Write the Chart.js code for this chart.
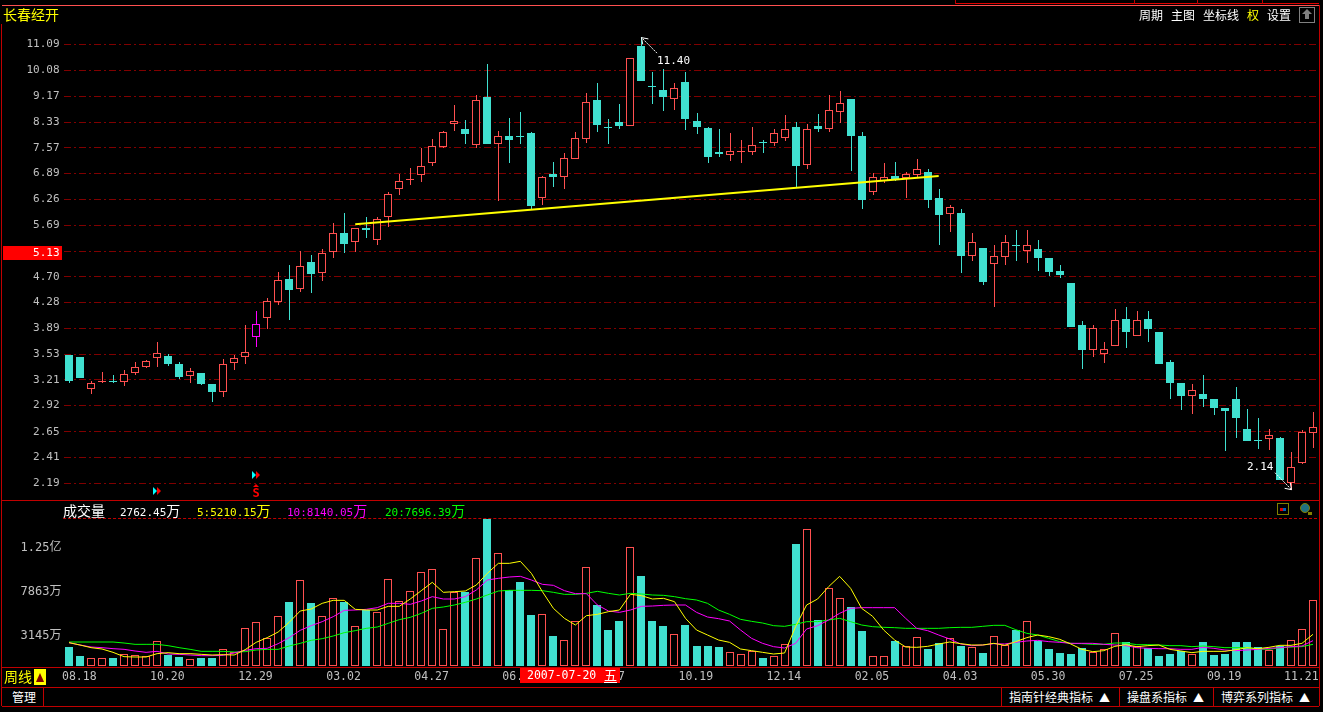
<!DOCTYPE html>
<html lang="zh">
  <head>
    <meta charset="utf-8">
    <title>长春经开</title>
    <script src="https://cdn.jsdelivr.net/npm/chart.js@4.4.1/dist/chart.umd.min.js"></script>
    <style>
      html, body { margin: 0; padding: 0; background: #000; overflow: hidden; }
      body { width: 1323px; height: 712px; position: relative; font-family: "Noto Sans CJK SC", sans-serif; }
      canvas { position: absolute; left: 0; }
      #priceChart { top: 0; }
      #volumeChart { top: 500px; }
      .t { position: absolute; white-space: nowrap; font-size: 12px; line-height: 16px; height: 16px; color: #fff; }
      .m { font-family: "DejaVu Sans Mono", monospace; font-size: 11px; }
      .c { font-family: "Noto Sans CJK SC", sans-serif; font-size: 14px; }
      .r { position: absolute; background: #c00000; }
      .tri { font-size: 11px; }
    </style>
  </head>
  <body>
    <canvas id="priceChart" width="1323" height="500" style="width:1323px;height:500px"></canvas>
    <canvas id="volumeChart" width="1323" height="187" style="width:1323px;height:187px"></canvas>

    <!-- frame -->
    <div class="r" style="left:2px;top:5px;width:1317px;height:1px;background:#ff5050"></div>
    <div class="r" style="left:955px;top:3px;width:364px;height:1px;background:#e00000"></div>
    <div class="r" style="left:1134px;top:0;width:1px;height:4px"></div>
    <div class="r" style="left:1197px;top:0;width:1px;height:4px"></div>
    <div class="r" style="left:1262px;top:0;width:1px;height:4px"></div>
    <div class="r" style="left:955px;top:0;width:1px;height:4px"></div>
    <div class="r" style="left:1px;top:24px;width:1px;height:682px"></div>
    <div class="r" style="left:1319px;top:5px;width:1px;height:701px"></div>
    <div class="r" style="left:2px;top:500px;width:1317px;height:1px"></div>
    <div style="position:absolute;left:63px;top:518px;width:1254px;border-top:1px dashed #c00000"></div>
    <div class="r" style="left:2px;top:667px;width:1317px;height:1px"></div>
    <div class="r" style="left:2px;top:687px;width:1317px;height:1px"></div>
    <div class="r" style="left:2px;top:706px;width:1317px;height:1px"></div>
    <div class="r" style="left:43px;top:687px;width:1px;height:19px"></div>
    <div class="r" style="left:1001px;top:687px;width:1px;height:19px"></div>
    <div class="r" style="left:1119px;top:687px;width:1px;height:19px"></div>
    <div class="r" style="left:1213px;top:687px;width:1px;height:19px"></div>

    <!-- top bar -->
    <div class="t" style="left:3px;top:6px;color:#ffff00;font-size:14px">长春经开</div>
    <div class="t" style="left:1139px;top:7px">周期</div>
    <div class="t" style="left:1171px;top:7px">主图</div>
    <div class="t" style="left:1203px;top:7px">坐标线</div>
    <div class="t" style="left:1247px;top:7px;color:#ffff00">权</div>
    <div class="t" style="left:1267px;top:7px">设置</div>
    <div style="position:absolute;left:1299px;top:7px;width:14px;height:14px;border:1px solid #808080"></div>
    <div style="position:absolute;left:1302px;top:9px;width:0;height:0;border:5px solid transparent;border-top:0;border-bottom:5px solid #808080"></div>
    <div style="position:absolute;left:1305px;top:14px;width:4px;height:5px;background:#808080"></div>

    <!-- volume header -->
    <div class="t" style="left:63px;top:502px;font-size:14px">成交量</div>
    <div class="t m" style="left:120px;top:502px">2762.45<span class="c">万</span></div>
    <div class="t m" style="left:197px;top:502px;color:#ffff00">5:5210.15<span class="c">万</span></div>
    <div class="t m" style="left:287px;top:502px;color:#ff00ff">10:8140.05<span class="c">万</span></div>
    <div class="t m" style="left:385px;top:502px;color:#00ff00">20:7696.39<span class="c">万</span></div>
    <div style="position:absolute;left:1277px;top:503px;width:10px;height:10px;border:1px solid #808000"></div>
    <div style="position:absolute;left:1280px;top:508px;width:3px;height:3px;background:#e00000"></div>
    <div style="position:absolute;left:1283px;top:508px;width:3px;height:3px;background:#0060c0"></div>
    <div style="position:absolute;left:1300px;top:503px;width:8px;height:8px;border:1px solid #808000;border-radius:5px;background:#207080"></div>
    <div style="position:absolute;left:1308px;top:512px;width:4px;height:3px;background:#808000"></div>

    <!-- bottom bars -->
    <div class="t" style="left:4px;top:668px;color:#ffff00;font-size:14px">周线</div>
    <div style="position:absolute;left:34px;top:669px;width:12px;height:16px;background:#ffff00"></div>
    <div style="position:absolute;left:36px;top:673px;width:0;height:0;border:4px solid transparent;border-top:0;border-bottom:9px solid #800000"></div>
    <div class="t" style="left:520px;top:668px;width:100px;height:15px;background:#ff0000;font-family:'DejaVu Sans Mono',monospace;font-size:11.5px;line-height:15px"><span style="position:absolute;left:7px">2007-07-20</span><span style="position:absolute;left:84px;font-family:'Noto Sans CJK SC';font-size:13px;border-bottom:1px solid #fff;line-height:14px">五</span></div>
    <div class="t" style="left:12px;top:689px">管理</div>
    <div class="t" style="left:1009px;top:689px">指南针经典指标</div>
    <div class="t tri" style="left:1099px;top:689px">▲</div>
    <div class="t" style="left:1127px;top:689px">操盘系指标</div>
    <div class="t tri" style="left:1193px;top:689px">▲</div>
    <div class="t" style="left:1221px;top:689px">博弈系列指标</div>
    <div class="t tri" style="left:1299px;top:689px">▲</div>

    <script>
      const open = [3.52,3.50,3.10,3.19,3.20,3.19,3.30,3.37,3.48,3.51,3.40,3.26,3.29,3.16,3.07,3.42,3.49,3.76,4.04,4.29,4.66,4.50,4.97,4.76,5.16,5.52,5.34,5.64,5.38,5.86,6.50,6.75,6.84,7.16,7.59,8.27,8.11,7.65,9.15,7.68,7.91,7.90,7.99,6.30,6.88,6.79,7.27,7.83,9.02,8.19,8.32,8.20,11.03,9.50,9.36,9.07,9.64,8.35,8.14,7.45,7.37,7.46,7.46,7.73,7.71,7.86,8.17,7.10,8.20,8.12,8.65,9.06,7.91,6.43,6.71,6.83,6.78,6.86,6.93,6.30,5.93,5.94,5.07,5.23,4.92,5.05,5.29,5.18,5.21,5.04,4.80,4.59,3.93,3.58,3.53,3.64,4.02,3.78,4.02,3.84,3.43,3.18,3.03,3.05,2.99,2.89,2.99,2.68,2.57,2.58,2.59,2.19,2.36,2.64];
      const high = [3.52,3.50,3.20,3.31,3.27,3.33,3.43,3.46,3.69,3.54,3.43,3.36,3.29,3.16,3.47,3.52,3.93,4.14,4.35,4.78,4.91,5.17,5.10,5.21,5.74,5.96,5.64,5.87,5.87,6.43,6.88,7.04,7.58,7.82,8.05,8.86,8.38,9.19,10.33,8.05,8.44,8.64,8.02,6.83,7.18,7.42,8.02,9.26,9.61,8.41,8.90,10.55,11.40,10.03,10.14,9.61,10.03,8.60,8.17,8.11,7.99,7.79,8.17,7.79,8.11,8.54,8.32,8.26,8.57,9.19,9.33,9.06,8.02,6.90,7.15,7.18,6.93,7.26,7.01,6.51,6.14,6.05,5.52,5.23,5.29,5.48,5.58,5.58,5.39,5.04,4.91,4.59,3.99,3.94,3.70,4.18,4.21,4.14,4.14,3.84,3.45,3.18,3.16,3.27,2.99,2.89,3.13,2.88,2.79,2.68,2.60,2.46,2.67,2.85];
      const low = [3.18,3.23,3.05,3.17,3.17,3.14,3.27,3.35,3.37,3.38,3.22,3.18,3.15,2.96,3.02,3.33,3.40,3.63,3.87,4.23,4.00,4.45,4.42,4.63,5.04,5.13,5.15,5.43,5.29,5.66,6.35,6.59,6.68,7.07,7.56,8.05,7.67,7.58,7.67,6.23,7.15,7.67,6.03,6.12,6.54,6.51,7.27,7.70,8.02,7.67,8.11,8.20,9.71,8.90,8.67,8.70,8.08,7.96,7.15,7.31,7.20,7.15,7.37,7.42,7.61,7.76,6.56,6.99,8.02,8.02,8.29,6.96,6.03,6.35,6.66,6.71,6.30,6.81,6.07,5.29,5.54,4.77,4.99,4.56,4.20,4.91,4.99,4.95,4.80,4.71,4.68,3.91,3.34,3.50,3.42,3.64,3.61,3.78,3.69,3.40,2.99,2.87,2.83,2.91,2.82,2.47,2.59,2.56,2.49,2.48,2.22,2.14,2.35,2.50];
      const close = [3.20,3.23,3.17,3.20,3.19,3.28,3.37,3.44,3.55,3.40,3.25,3.32,3.16,3.07,3.40,3.48,3.56,3.95,4.30,4.65,4.47,4.89,4.75,5.13,5.53,5.31,5.64,5.58,5.83,6.39,6.70,6.76,7.09,7.63,8.04,8.37,7.96,9.05,7.67,7.90,7.79,7.89,6.10,6.80,6.81,7.30,7.84,8.98,8.23,8.18,8.20,10.55,9.71,9.48,9.15,9.46,8.41,8.17,7.31,7.39,7.49,7.47,7.66,7.72,7.99,8.13,7.07,8.13,8.11,8.72,8.95,7.91,6.25,6.80,6.80,6.76,6.87,7.00,6.25,5.90,6.09,5.08,5.35,4.61,5.07,5.35,5.28,5.29,5.04,4.78,4.73,3.91,3.59,3.89,3.60,4.01,3.84,4.00,3.87,3.41,3.17,3.03,3.09,2.99,2.89,2.86,2.79,2.56,2.56,2.62,2.22,2.33,2.65,2.70];

      // volume, in 万
      const volume = [2014,1060,816,816,848,1240,1130,1095,2615,1166,954,707,848,848,1767,1450,3993,4630,2933,5265,6784,9080,6678,5265,7172,6784,4205,5936,5690,9186,6855,7914,9928,10246,3887,7810,7880,11416,15580,11946,8024,8904,5406,5480,3180,2724,4738,10462,6466,3816,4770,12582,9540,4770,4240,3360,4346,2120,2120,2014,1452,1240,1590,848,1028,2300,12932,14490,4876,8236,7176,6254,3710,1028,1028,2650,2088,3040,1802,2438,2936,2120,1982,1378,3148,2194,3816,4738,2650,1802,1378,1272,1908,1452,1767,3466,2544,2088,1908,1060,1272,1590,1272,2544,1166,1272,2544,2544,2014,1696,2120,2724,3887,6960];
      const ma5 = [2473,2226,1943,1802,1449,989,954,954,1307,1413,1307,1307,1237,1166,1201,1166,1731,2508,3003,3604,4628,5829,6041,6642,6960,6960,6006,5935,5935,6324,6324,7101,7985,8868,7808,7879,7949,8585,9822,10882,10882,11094,9822,7879,6112,5052,4346,5335,5476,5759,5935,7596,7455,7101,7172,6819,5052,3816,3286,2756,2508,1802,1625,1449,1272,1378,4169,6465,7101,8409,9504,8232,6112,5264,3816,2756,2014,1978,2084,2332,2544,2367,2226,2226,2402,2190,2579,3003,3286,3109,2826,2332,1767,1519,1625,2084,2261,2049,2155,2226,1767,1590,1413,1555,1555,1555,1731,1943,1837,1978,2190,2190,2402,3356];
      const ma10 = [2473,2226,2014,1943,1837,1767,1590,1449,1555,1272,1237,1166,1095,1095,1131,1378,1661,1837,1872,2367,3003,3780,4275,4699,5229,5900,5935,6006,6183,6642,6642,6536,6889,7349,7101,7101,7349,8055,9115,9292,9433,9504,9115,8656,8550,7985,7667,7667,6465,5829,5688,5935,6324,6359,6430,6465,6465,5688,5194,5017,4770,3816,2932,2402,2049,1908,2402,3922,4275,4876,5582,6112,6183,6183,6183,6183,5052,3992,3745,3286,2862,2332,2155,2226,2367,2332,2508,2650,2720,2579,2508,2402,2402,2402,2296,2226,2155,1943,1872,1837,1837,1767,1767,1978,1872,1696,1625,1696,1767,1872,1943,2049,2120,2685];
      const ma20 = [2544,2544,2544,2544,2544,2438,2296,2296,2296,2155,1943,1767,1555,1555,1555,1484,1519,1696,1767,1767,2120,2402,2720,2897,3180,3533,3745,3992,4134,4522,4911,5158,5582,6112,6253,6465,6748,7101,7525,7949,8020,8020,8020,7985,7808,7596,7596,7702,7914,7702,7525,7702,7631,7525,7490,7349,7137,6995,6642,5935,5476,4946,4734,4558,4275,4204,4416,4699,4699,4876,5052,4699,4346,4169,4098,4063,3992,3992,3992,3992,4063,4098,4098,4204,4310,4310,3851,3462,3286,2932,2579,2402,2367,2296,2296,2438,2438,2261,2261,2226,2155,2155,2049,2120,2049,1943,1943,1943,1802,1767,1943,2014,2049,2296];

      const priceTicks = [11.09,10.08,9.17,8.33,7.57,6.89,6.26,5.69,5.17,4.70,4.28,3.89,3.53,3.21,2.92,2.65,2.41,2.19];
      const priceTickLabels = ["11.09","10.08","9.17","8.33","7.57","6.89","6.26","5.69","5.13","4.70","4.28","3.89","3.53","3.21","2.92","2.65","2.41","2.19"];
      const volumeTicks = [3145,7863,12500];
      const volumeTickLabels = ["3145万","7863万","1.25亿"];
      const dateTickBars = [0,8,16,24,32,40,48,56,64,72,80,88,96,104,111];
      const dateTickLabels = ["08.18","10.20","12.29","03.02","04.27","06.22","08.17","10.19","12.14","02.05","04.03","05.30","07.25","09.19","11.21"];
      const trendBars = [26,79];
      const trendPrices = [5.71,6.82];
      const signalBars = [8,17];
      const signalPrices = [2.13,2.26];
      const highlightBar = 17;
      const peakBar = 52;
      const troughBar = 111;
      const currentTick = 8;

      const RED = "#ff5050", TEAL = "#40e0d0", MAGENTA = "#ff00ff";
      const categories = open.map((_, i) => i);
      const isUp = i => close[i] >= open[i];
      const candleColor = i => i === highlightBar ? MAGENTA : (isUp(i) ? RED : TEAL);
      const noLegend = { legend: { display: false }, tooltip: { enabled: false } };

      // the tick labels must not push the plot area inwards
      function fixAxis(size) {
        return s => {
          if (s.isHorizontal()) s.height = size; else s.width = size;
          s.paddingTop = s.paddingBottom = s.paddingLeft = s.paddingRight = 0;
        };
      }

      // snap the bars to whole pixels so they stay as sharp as the original
      const snapBars = {
        id: "snapBars",
        afterDatasetsUpdate(chart) {
          chart.data.datasets.forEach((ds, d) => {
            if (ds.type !== "bar") return;
            chart.getDatasetMeta(d).data.forEach(el => {
              el.x = Math.round(el.x) + (ds.isWick ? 0.5 : 0);
              el.y = Math.round(el.y);
              el.base = Math.round(el.base);
              if (el.base === el.y) el.base = el.y + 1;
            });
          });
        }
      };

      function arrow(ctx, x0, y0, x1, y1) {
        ctx.save();
        ctx.strokeStyle = "#fff";
        ctx.setLineDash([2, 1]);
        ctx.beginPath();
        ctx.moveTo(x0, y0);
        ctx.lineTo(x1, y1);
        ctx.stroke();
        ctx.setLineDash([]);
        const a = Math.atan2(y1 - y0, x1 - x0);
        ctx.beginPath();
        ctx.moveTo(x1 - 7 * Math.cos(a - 0.6), y1 - 7 * Math.sin(a - 0.6));
        ctx.lineTo(x1, y1);
        ctx.lineTo(x1 - 7 * Math.cos(a + 0.6), y1 - 7 * Math.sin(a + 0.6));
        ctx.stroke();
        ctx.restore();
      }

      const priceMarks = {
        id: "priceMarks",
        beforeDraw(chart) {
          // red box with the current price, it sits 2px below its grid line
          const { ctx } = chart;
          const y = Math.round(chart.scales.y.getPixelForValue(priceTicks[currentTick]));
          ctx.save();
          ctx.fillStyle = "#ff0000";
          ctx.fillRect(3, y - 5, 59, 14);
          ctx.fillStyle = "#fff";
          ctx.font = "11px 'DejaVu Sans Mono'";
          ctx.textAlign = "right";
          ctx.textBaseline = "middle";
          ctx.fillText(priceTickLabels[currentTick], 59.5, y + 2);
          ctx.restore();
        },
        afterDatasetsDraw(chart) {
          const { ctx, scales: { x, y } } = chart;
          ctx.save();
          ctx.font = "11px 'DejaVu Sans Mono'";
          ctx.fillStyle = "#fff";
          ctx.textBaseline = "middle";

          const px = Math.round(x.getPixelForValue(peakBar)), py = y.getPixelForValue(high[peakBar]);
          arrow(ctx, px + 16, py + 16, px + 0.5, py + 0.5);
          ctx.fillText("11.40", px + 16, py + 24);

          const tx = Math.round(x.getPixelForValue(troughBar)), ty = y.getPixelForValue(low[troughBar]);
          arrow(ctx, tx - 16, ty - 17, tx + 0.5, ty);
          ctx.fillText("2.14", tx - 44, ty - 23);

          signalBars.forEach((bar, i) => {
            const sx = Math.round(x.getPixelForValue(bar)), sy = Math.round(y.getPixelForValue(signalPrices[i]));
            [["#00ffff", -4], ["#ff0000", 0]].forEach(([color, dx]) => {
              ctx.fillStyle = color;
              ctx.beginPath();
              ctx.moveTo(sx + dx, sy - 4);
              ctx.lineTo(sx + dx + 4, sy);
              ctx.lineTo(sx + dx, sy + 4);
              ctx.fill();
            });
          });
          // S mark with its small hat under the second signal
          const mx = Math.round(x.getPixelForValue(signalBars[1])), my = Math.round(y.getPixelForValue(signalPrices[1]));
          ctx.fillStyle = "#ff0000";
          ctx.font = "bold 12px 'DejaVu Sans Mono'";
          ctx.textAlign = "center";
          ctx.fillText("S", mx, my + 19);
          ctx.beginPath();
          ctx.moveTo(mx - 3, my + 12);
          ctx.lineTo(mx, my + 9);
          ctx.lineTo(mx + 3, my + 12);
          ctx.fill();
          ctx.restore();
        }
      };

      new Chart(document.getElementById("priceChart").getContext("2d"), {
        type: "bar",
        data: {
          labels: categories,
          datasets: [
            {
              type: "line",
              data: categories.map(i => trendBars.includes(i) ? trendPrices[trendBars.indexOf(i)] : null),
              borderColor: "#ffff00",
              borderWidth: 2,
              pointRadius: 0,
              spanGaps: true,
              order: 0
            },
            {
              type: "bar",
              data: categories.map(i => [Math.min(open[i], close[i]), Math.max(open[i], close[i])]),
              backgroundColor: categories.map(i => (isUp(i) ? "#000" : TEAL)),
              borderColor: categories.map(candleColor),
              borderWidth: 1,
              borderSkipped: false,
              inflateAmount: 0,
              barThickness: 8,
              grouped: false,
              order: 1
            },
            {
              type: "bar",
              isWick: true,
              data: categories.map(i => [low[i], high[i]]),
              backgroundColor: categories.map(candleColor),
              inflateAmount: 0,
              barThickness: 1,
              grouped: false,
              order: 2
            }
          ]
        },
        options: {
          responsive: false,
          animation: false,
          events: [],
          layout: { padding: { top: 6, right: 4.5, left: 0, bottom: 0 } },
          plugins: noLegend,
          scales: {
            x: { display: false, offset: true },
            y: {
              type: "logarithmic",
              min: 2.06,
              max: 12.79,
              bounds: "data",
              afterFit: fixAxis(63.5),
              afterBuildTicks: s => { s.ticks = priceTicks.map(value => ({ value })); },
              grid: { color: "#800000", drawTicks: false },
              border: { display: false, dash: [7, 3, 2, 3] },
              ticks: {
                autoSkip: false,
                padding: 4,
                font: { family: "'DejaVu Sans Mono'", size: 11 },
                color: "#c0c0c0",
                callback: (value, index) => index === currentTick ? "" : priceTickLabels[index]
              }
            }
          }
        },
        plugins: [snapBars, priceMarks]
      });

      new Chart(document.getElementById("volumeChart").getContext("2d"), {
        type: "bar",
        data: {
          labels: categories,
          datasets: [
            { type: "line", data: ma5, borderColor: "#ffff00", borderWidth: 1, pointRadius: 0, order: 0 },
            { type: "line", data: ma10, borderColor: MAGENTA, borderWidth: 1, pointRadius: 0, order: 1 },
            { type: "line", data: ma20, borderColor: "#00ff00", borderWidth: 1, pointRadius: 0, order: 2 },
            {
              type: "bar",
              data: volume,
              backgroundColor: categories.map(i => (isUp(i) ? "#000" : TEAL)),
              borderColor: categories.map(i => (isUp(i) ? RED : TEAL)),
              borderWidth: 1,
              borderSkipped: false,
              inflateAmount: 0,
              barThickness: 8,
              grouped: false,
              order: 3
            }
          ]
        },
        options: {
          responsive: false,
          animation: false,
          events: [],
          layout: { padding: { top: 18.5, right: 4.5, left: 0, bottom: 0 } },
          plugins: noLegend,
          scales: {
            x: {
              offset: true,
              afterFit: fixAxis(21),
              grid: { display: false, drawTicks: false },
              border: { display: false },
              ticks: {
                autoSkip: false,
                maxRotation: 0,
                align: "start",
                labelOffset: -7,
                padding: 4,
                font: { family: "'DejaVu Sans Mono'", size: 11.5 },
                color: "#c0c0c0",
                callback: (value, index) => {
                  const n = dateTickBars.indexOf(index);
                  return n < 0 ? "" : dateTickLabels[n];
                }
              }
            },
            y: {
              min: 0,
              max: 15635,
              bounds: "data",
              afterFit: fixAxis(63.5),
              afterBuildTicks: s => { s.ticks = volumeTicks.map(value => ({ value })); },
              grid: { display: false, drawTicks: false },
              border: { display: false },
              ticks: {
                autoSkip: false,
                padding: 2,
                font: { family: "'DejaVu Sans Mono','Noto Sans CJK SC'", size: 12 },
                color: "#c0c0c0",
                callback: (value, index) => volumeTickLabels[index]
              }
            }
          }
        },
        plugins: [snapBars]
      });
    </script>
  </body>
</html>
